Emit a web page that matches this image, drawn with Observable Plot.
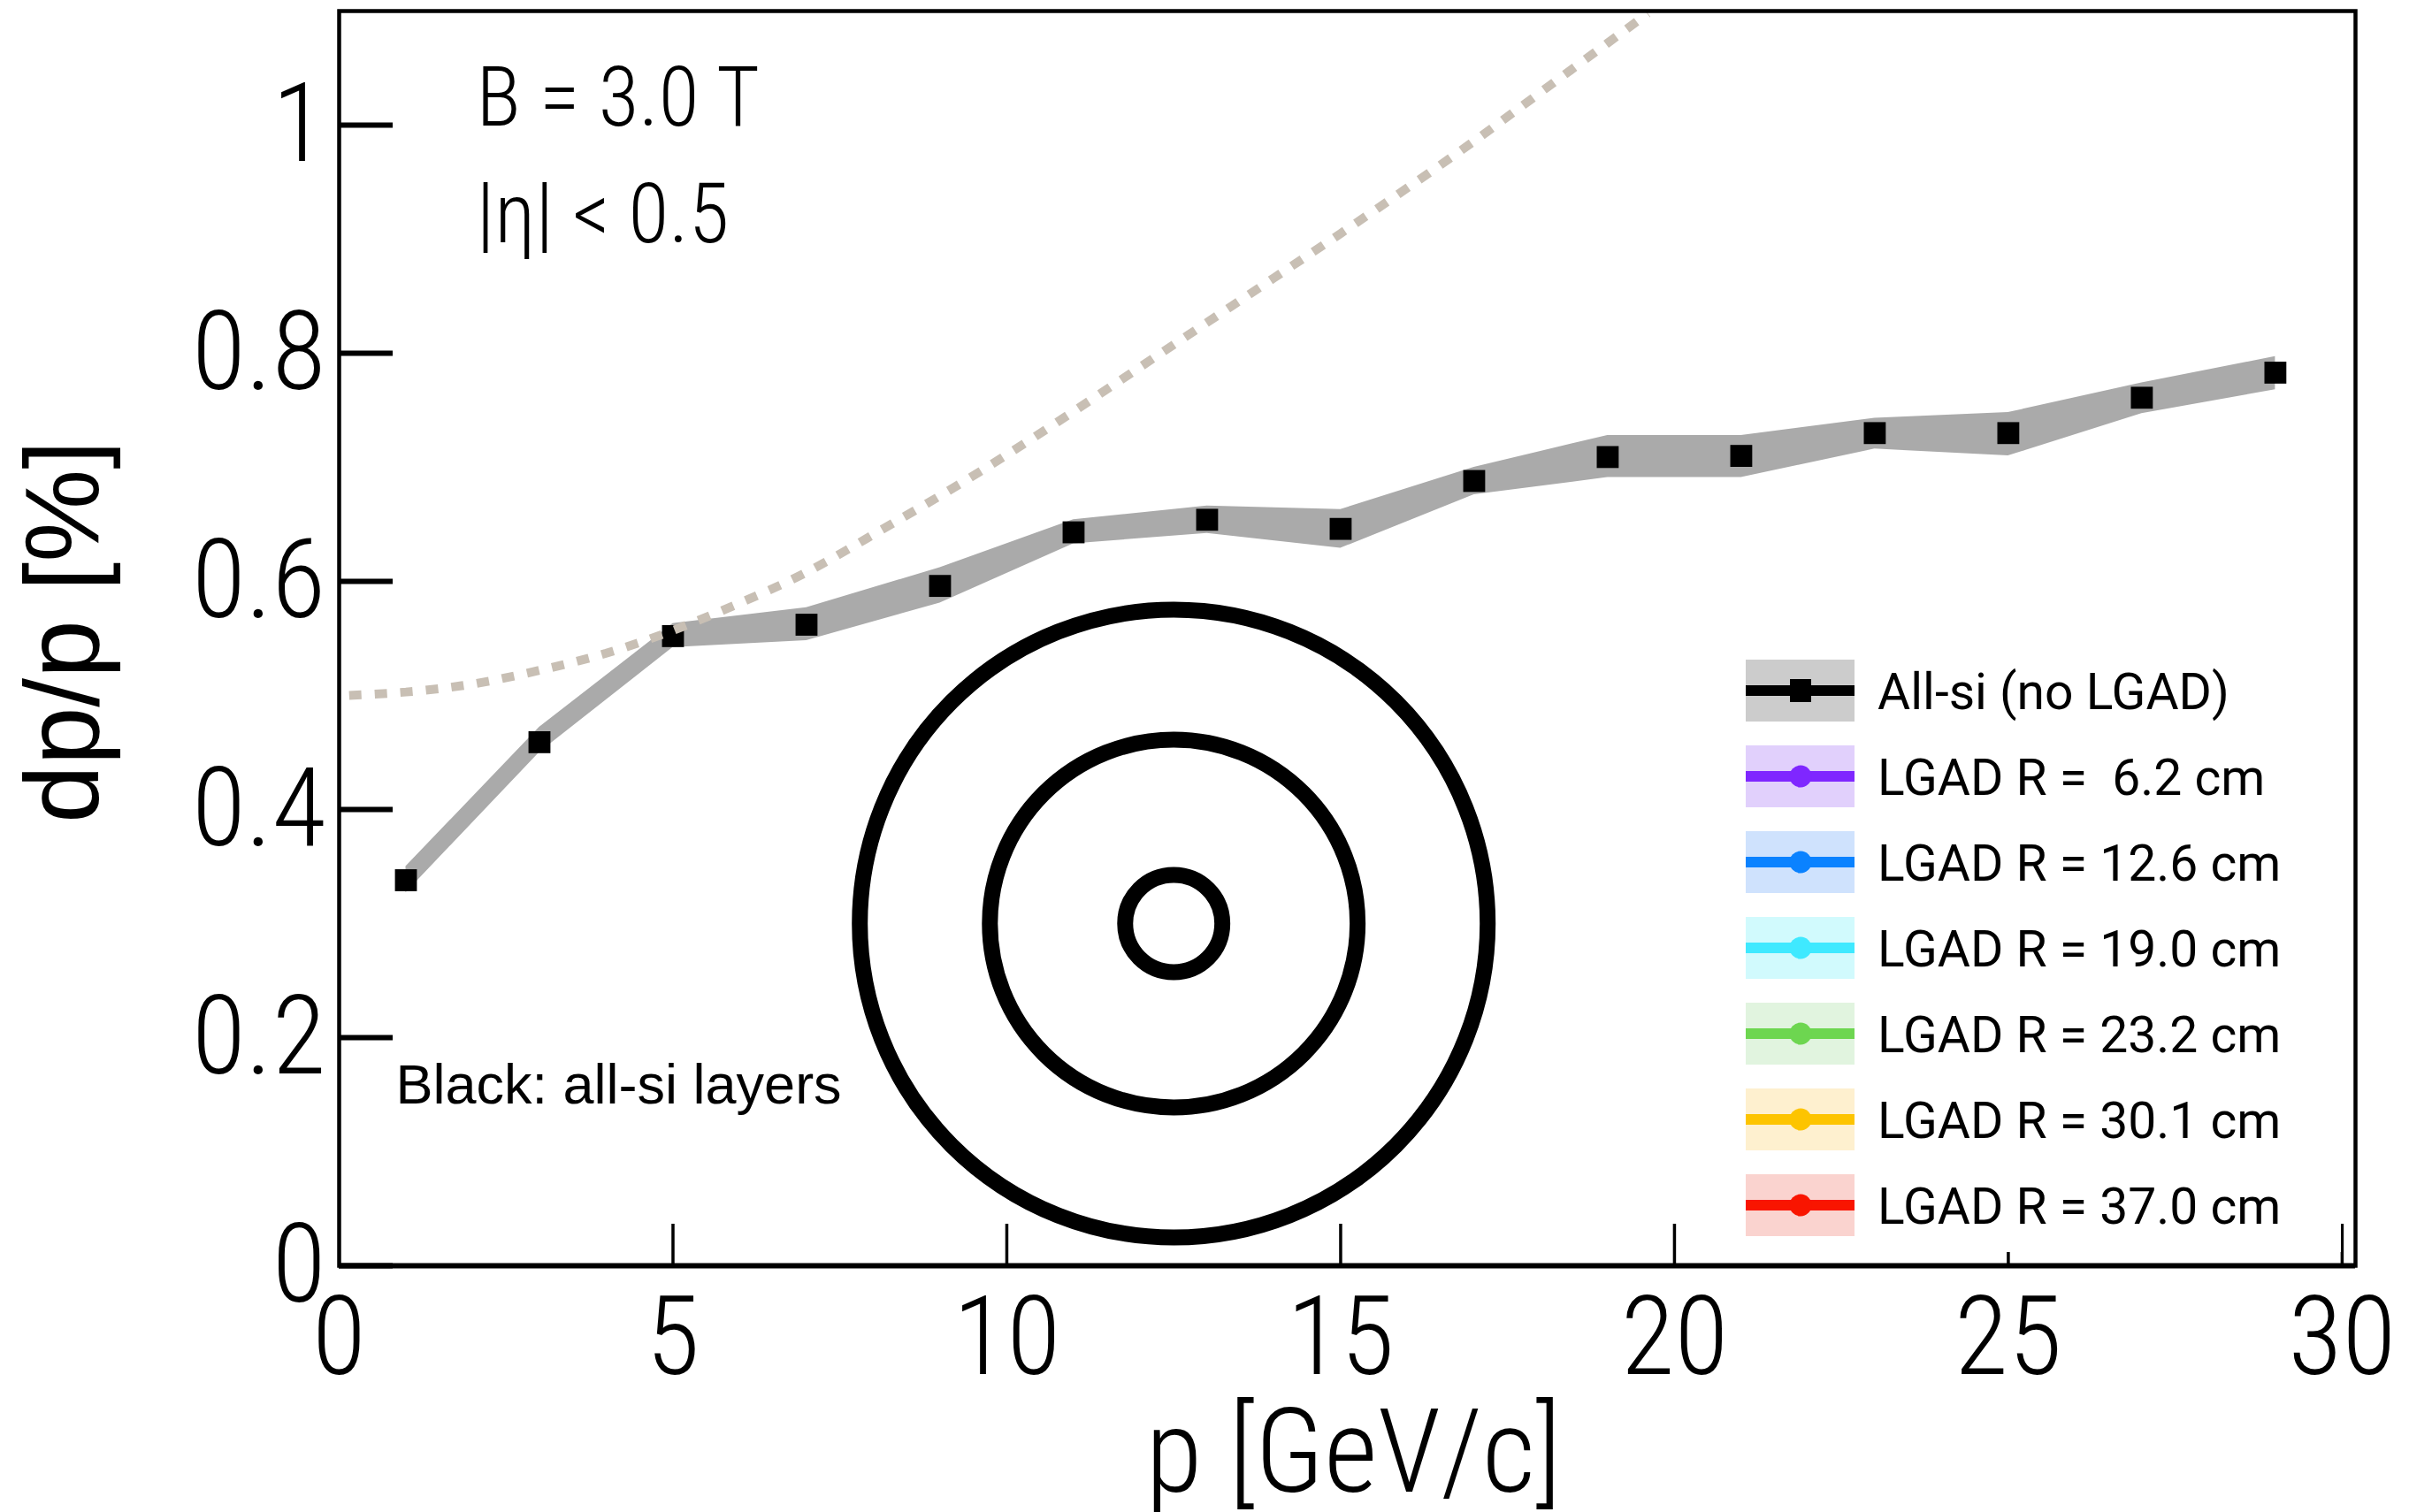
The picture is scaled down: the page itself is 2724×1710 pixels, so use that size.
<!DOCTYPE html>
<html>
<head>
<meta charset="utf-8">
<script src="https://cdn.jsdelivr.net/npm/d3@7"></script>
<script src="https://cdn.jsdelivr.net/npm/@observablehq/plot@0.6"></script>
<style>
  html, body { margin: 0; padding: 0; background: #fff; }
  #chart { width: 2724px; height: 1710px; }
</style>
</head>
<body>
<div id="chart"></div>
<script>
// Momentum resolution of the all-silicon tracker, |eta| < 0.5, B = 3.0 T
const momentum     = [1, 3, 5, 7, 9, 11, 13, 15, 17, 19, 21, 23, 25, 27, 29];
const dppAllSi     = [0.338, 0.459, 0.552, 0.562, 0.596, 0.643, 0.654, 0.646, 0.688, 0.709, 0.710, 0.730, 0.730, 0.761, 0.783];
const dppAllSiHigh = [0.350, 0.472, 0.563, 0.577, 0.612, 0.654, 0.666, 0.663, 0.700, 0.728, 0.728, 0.743, 0.748, 0.774, 0.797];
const dppAllSiLow  = [0.327, 0.450, 0.542, 0.548, 0.581, 0.633, 0.642, 0.629, 0.676, 0.691, 0.691, 0.716, 0.710, 0.747, 0.768];

// Reference resolution curve (dashed)
const refMomentum = [0.15, 1, 2, 3, 4, 5, 6, 7, 8, 9, 10, 11, 12, 13, 14, 15, 16, 17, 18, 19, 19.6];
const refDpp      = [0.500, 0.503, 0.510, 0.522, 0.537, 0.557, 0.581, 0.608, 0.641, 0.675, 0.711, 0.749, 0.788, 0.827, 0.866, 0.905, 0.945, 0.986, 1.029, 1.072, 1.098];

// Schematic of the all-si barrel layers (radius in cm), drawn around a point of the plot
const siLayerRadius = [6.5, 24.6, 42];
const schematicCenter = {p: 12.5, dpp: 0.30};

// Axis ticks
const xTickValues = [0, 5, 10, 15, 20, 25, 30];
const yTickValues = [0, 0.2, 0.4, 0.6, 0.8, 1];

// Legend entries
const legendLabels = [
  "All-si (no LGAD)",
  "LGAD R = \u00a06.2 cm",
  "LGAD R = 12.6 cm",
  "LGAD R = 19.0 cm",
  "LGAD R = 23.2 cm",
  "LGAD R = 30.1 cm",
  "LGAD R = 37.0 cm"
];
const legendLineColors = ["#000000", "#7f27ff", "#0a82ff", "#3fe9ff", "#6dd650", "#fdc400", "#f91500"];
const legendBandColors = ["#cccccc", "#e1d0fc", "#cfe2fd", "#d1fafd", "#e1f4df", "#fef0cf", "#fad3cf"];

// ---- build ----
const allSi = momentum.map((p, i) => ({p, dpp: dppAllSi[i], lo: dppAllSiLow[i], hi: dppAllSiHigh[i]}));
const reference = refMomentum.map((p, i) => ({p, dpp: refDpp[i]}));
const layers = siLayerRadius.map(radius => ({radius, p: schematicCenter.p, dpp: schematicCenter.dpp}));

const W = 2724, H = 1710;
const M = {top: 12, right: 61, bottom: 279, left: 383};
const frameW = W - M.left - M.right;
const frameH = H - M.top - M.bottom;

const TICK_FONT = '"Roboto Condensed", "Liberation Sans Narrow", Roboto, sans-serif';
const YTITLE_FONT = '"Liberation Sans", Arial, sans-serif';
const LEGEND_FONT = 'Roboto, "Liberation Sans", sans-serif';
const NOTE_FONT = '"Liberation Sans", Arial, sans-serif';

const chart = Plot.plot({
  width: W,
  height: H,
  marginTop: M.top,
  marginRight: M.right,
  marginBottom: M.bottom,
  marginLeft: M.left,
  style: {background: "white", color: "black", fontFamily: TICK_FONT},
  x: {domain: [0, 30.2]},
  y: {domain: [0, 1.1]},
  r: {type: "linear", domain: [0, 42], range: [0, 355]},
  marks: [
    // uncertainty band
    Plot.areaY(allSi, {x: "p", y1: "lo", y2: "hi", fill: "#aaaaaa"}),
    // barrel layer schematic
    Plot.dot(layers, {x: "p", y: "dpp", r: "radius", stroke: "black", strokeWidth: 18, fill: "none"}),
    // all-si points
    Plot.dot(allSi, {x: "p", y: "dpp", symbol: "square", r: 14, fill: "black", stroke: "none"}),
    // reference curve
    Plot.line(reference, {
      x: "p", y: "dpp", curve: "natural",
      stroke: "#c8bfb4", strokeWidth: 10, strokeDasharray: "14,15", strokeLinecap: "butt", strokeLinejoin: "miter",
      clip: true
    }),
    // frame and inward ticks
    Plot.frame({stroke: "black", strokeWidth: 4.5}),
    Plot.ruleY([0], {stroke: "black", strokeWidth: 6}),
    Plot.tickY(yTickValues, {y: d => d, stroke: "black", strokeWidth: 6, insetRight: frameW - 61}),
    Plot.tickX(xTickValues.filter(v => v > 0), {x: d => d, stroke: "black", strokeWidth: 3.5, insetTop: frameH - 47}),
    // tick labels
    Plot.axisY(yTickValues, {anchor: "left", tickSize: 0, tickPadding: 15, fontSize: 125, fontWeight: 300, tickFormat: d => String(d), label: null}),
    Plot.axisX(xTickValues, {anchor: "bottom", tickSize: 0, tickPadding: 34, fontSize: 125, fontWeight: 300, tickFormat: d => String(d), label: null}),
    // axis titles
    Plot.text(["p [GeV/c]"], {frameAnchor: "bottom", textAnchor: "middle", dx: 7, dy: 213, lineAnchor: "middle", fontSize: 132, fontWeight: 300}),
    Plot.text(["dp/p [%]"], {frameAnchor: "left", textAnchor: "middle", rotate: -90, dx: -310, dy: -7.5, lineAnchor: "middle", fontSize: 118, fontFamily: YTITLE_FONT}),
    // annotations
    Plot.text(["B = 3.0 T\n|η| < 0.5"], {frameAnchor: "top-left", textAnchor: "start", lineAnchor: "top", dx: 155, dy: 36, fontSize: 94, fontWeight: 300, lineHeight: 1.4}),
    Plot.text(["Black: all-si layers"], {frameAnchor: "bottom-left", textAnchor: "start", lineAnchor: "top", dx: 64, dy: -228, fontSize: 63, fontFamily: NOTE_FONT})
  ]
});

document.getElementById("chart").appendChild(chart);

// ---- legend (drawn inside the frame, lower right) ----
const svg = d3.select(chart);
const legend = svg.append("g").attr("class", "legend").attr("text-anchor", "start");
legend.append("rect")
  .attr("x", 1950).attr("y", 728).attr("width", 697).attr("height", 688)
  .attr("fill", "white");

const rows = legend.selectAll("g.row")
  .data(legendLabels)
  .join("g")
  .attr("class", "row")
  .attr("transform", (d, i) => `translate(1974,${781 + 97 * i})`);

rows.append("rect")
  .attr("x", 0).attr("y", -35).attr("width", 123).attr("height", 70)
  .attr("fill", (d, i) => legendBandColors[i]);

rows.append("line")
  .attr("x1", 0).attr("x2", 123).attr("y1", 0).attr("y2", 0)
  .attr("stroke", (d, i) => legendLineColors[i])
  .attr("stroke-width", 12);

rows.each(function (d, i) {
  const g = d3.select(this);
  if (i === 0) {
    g.append("rect").attr("x", 50).attr("y", -13).attr("width", 24).attr("height", 26).attr("fill", "black");
  } else {
    g.append("circle").attr("cx", 62).attr("cy", 0).attr("r", 12.5).attr("fill", legendLineColors[i]);
  }
});

rows.append("text")
  .attr("x", 149).attr("y", 0).attr("dy", "0.36em")
  .attr("text-anchor", "start")
  .attr("fill", "black")
  .style("font-family", LEGEND_FONT)
  .style("font-size", "57px")
  .style("white-space", "pre")
  .text(d => d);
</script>
</body>
</html>
